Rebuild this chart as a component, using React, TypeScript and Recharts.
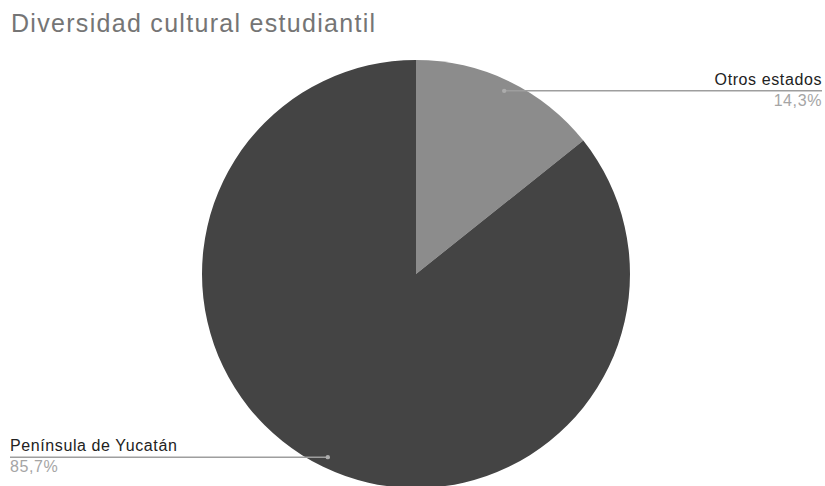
import { PieChart, Pie, Cell } from 'recharts';

const regions = ['Otros estados', 'Península de Yucatán'];
const students = [1, 6];
const sliceColors = ['#8c8c8c', '#444444'];

const data = regions.map((name, i) => ({ name, value: students[i] }));

const RAD = Math.PI / 180;
const FONT = "'Liberation Sans', Arial, sans-serif";

function renderLabel(props: any) {
  const { cx, cy, midAngle, outerRadius, percent, name } = props;
  const r = outerRadius * 0.95;
  const x = cx + r * Math.cos(-midAngle * RAD);
  const y = cy + r * Math.sin(-midAngle * RAD);
  const right = x > cx;
  const endX = right ? 822 : 10;
  const pct = (percent * 100).toFixed(1).replace('.', ',') + '%';
  return (
    <g>
      <line x1={x} y1={y} x2={endX} y2={y} stroke="#9e9e9e" strokeWidth={1.5} />
      <circle cx={x} cy={y} r={2.2} fill="#acacac" />
      <text
        x={endX}
        y={y - 6}
        textAnchor={right ? 'end' : 'start'}
        fill="#222222"
        fontSize={16}
        letterSpacing={0.6}
        fontFamily={FONT}
      >
        {name}
      </text>
      <text
        x={endX}
        y={y + 15}
        textAnchor={right ? 'end' : 'start'}
        fill="#a5a5a5"
        fontSize={16}
        letterSpacing={0.6}
        fontFamily={FONT}
      >
        {pct}
      </text>
    </g>
  );
}

export default function App() {
  return (
    <div style={{ position: 'absolute', left: 0, top: 0, width: 825, height: 486, background: '#fff', overflow: 'hidden' }}>
      <PieChart
        width={825}
        height={486}
        margin={{ top: 0, right: 0, bottom: 0, left: 0 }}
        style={{ position: 'absolute', left: 0, top: 0 }}
      >
        <Pie
          data={data}
          dataKey="value"
          nameKey="name"
          cx={416}
          cy={274}
          outerRadius={214}
          startAngle={90}
          endAngle={-270}
          stroke="none"
          label={renderLabel}
          labelLine={false}
          isAnimationActive={false}
        >
          {data.map((d, i) => (
            <Cell key={d.name} fill={sliceColors[i]} />
          ))}
        </Pie>
      </PieChart>
      {/* chart title */}
      <div
        style={{
          position: 'absolute',
          left: 11,
          top: 9,
          fontFamily: FONT,
          fontSize: 25,
          letterSpacing: 1.3,
          color: '#757575',
          whiteSpace: 'nowrap',
        }}
      >
        Diversidad cultural estudiantil
      </div>
    </div>
  );
}
